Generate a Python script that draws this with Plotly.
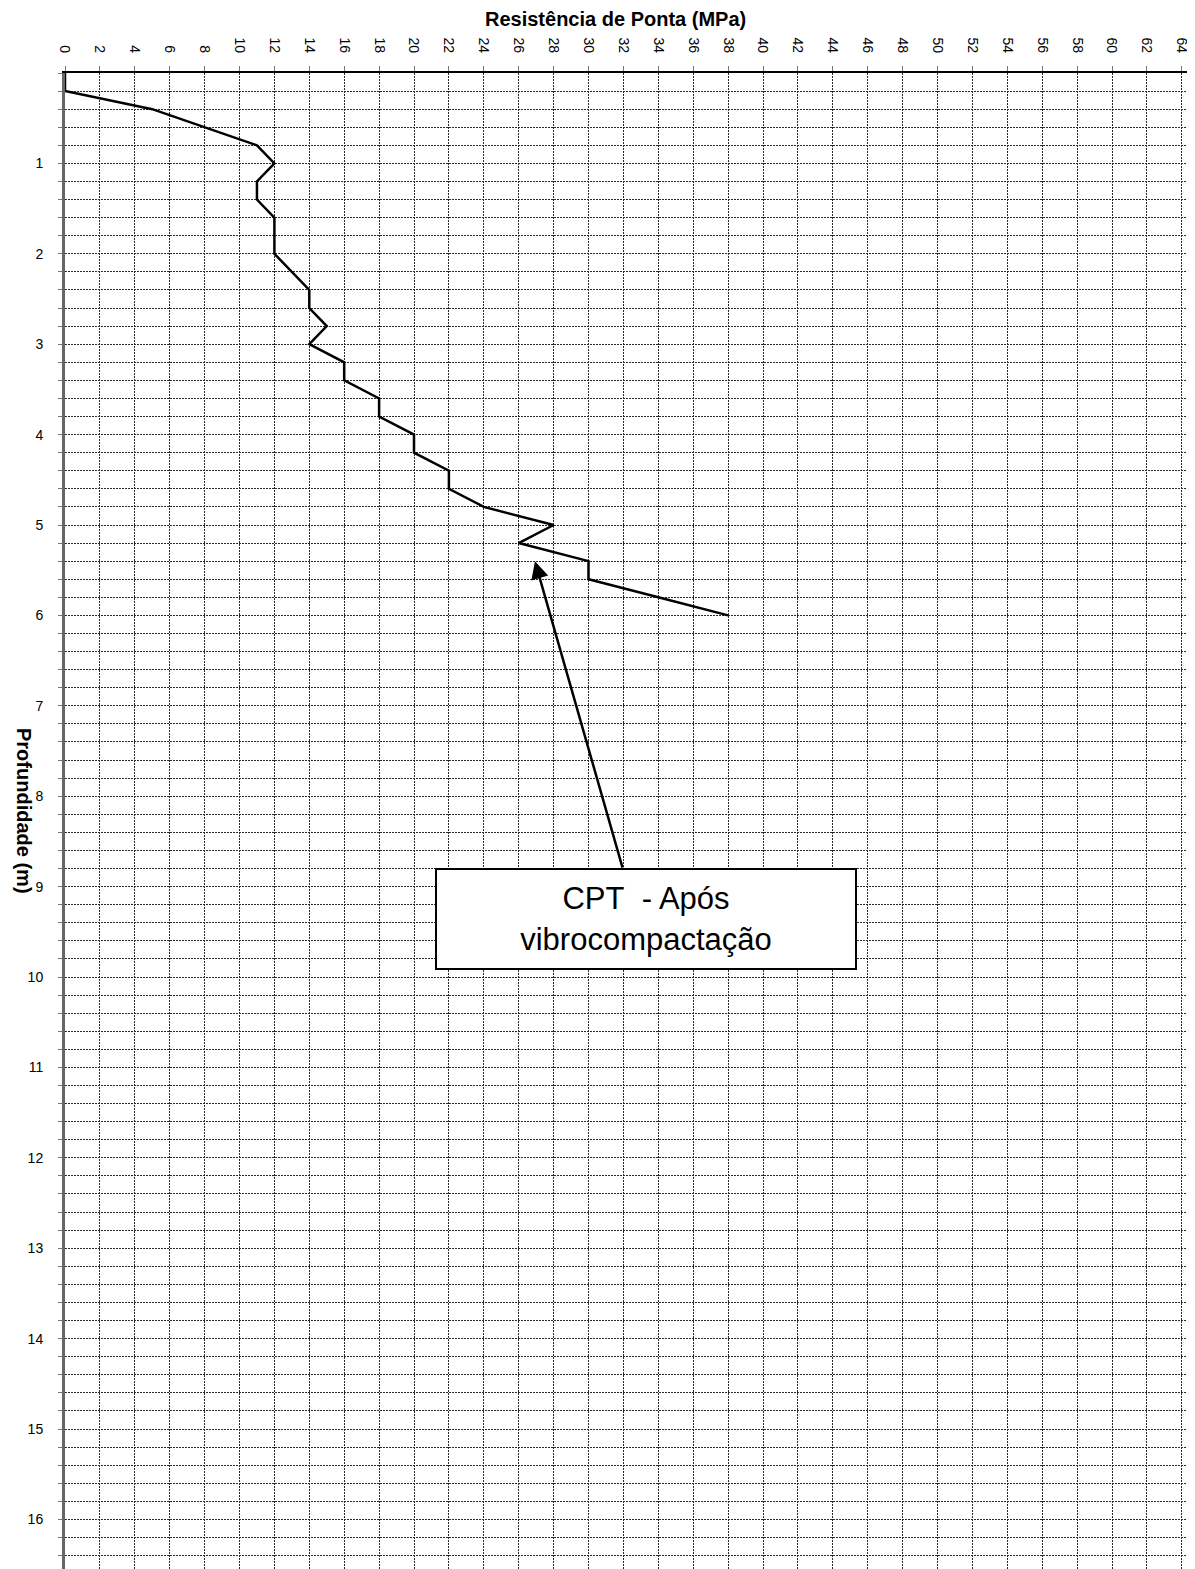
import plotly.graph_objects as go

# --- data ---
depth_m = [0, 0.2, 0.4, 0.6, 0.8, 1.0, 1.2, 1.4, 1.6, 1.8, 2.0, 2.2, 2.4, 2.6, 2.8, 3.0,
           3.2, 3.4, 3.6, 3.8, 4.0, 4.2, 4.4, 4.6, 4.8, 5.0, 5.2, 5.4, 5.6, 5.8, 6.0]
qc_mpa = [0, 0, 5, 8, 11, 12, 11, 11, 12, 12, 12, 13, 14, 14, 15, 14,
          16, 16, 18, 18, 20, 20, 22, 22, 24, 28, 26, 30, 30, 34, 38]

depth_tick_vals = list(range(1, 17))
depth_tick_text = [str(v) for v in depth_tick_vals]

x_title = "Resistência de Ponta (MPa)"
y_title = "Profundidade (m)"
label_text = "CPT\u00a0 - Após<br>vibrocompactação"

FONT = "Liberation Sans, Arial, sans-serif"
PAGE_OFF = 8              # default body margin of the html page
W, H = 1195 - PAGE_OFF, 1569 - PAGE_OFF
L, T = 65 - PAGE_OFF, 73 - PAGE_OFF
px_per_x = 17.45
px_per_y = 90.4
x_max = (W - L) / px_per_x
y_max = (H - T) / px_per_y

fig = go.Figure()
fig.add_trace(go.Scatter(x=qc_mpa, y=depth_m, mode="lines",
                         line=dict(color="black", width=2.5), showlegend=False,
                         hoverinfo="skip"))

grid = dict(gridcolor="#2a2a2a", gridwidth=1, griddash="2px,1px")

fig.update_layout(
    width=W, height=H,
    margin=dict(l=L, t=T, r=0, b=0),
    paper_bgcolor="white", plot_bgcolor="white",
    font=dict(family=FONT, color="black"),
    xaxis=dict(side="top", range=[0, x_max], dtick=2, tick0=0,
               tickangle=90, tickfont=dict(size=14, family=FONT),
               ticks="outside", ticklen=5, tickcolor="#777",
               ticklabelstandoff=8,
               showline=True, linecolor="black", linewidth=2,
               showgrid=True, zeroline=False, **grid),
    yaxis=dict(range=[y_max, 0], tickmode="array",
               tickvals=depth_tick_vals, ticktext=depth_tick_text,
               tickfont=dict(size=14, family=FONT),
               ticks="outside", ticklen=4, tickcolor="#777",
               ticklabelstandoff=12,
               showline=True, linecolor="#666", linewidth=3,
               showgrid=True, zeroline=False, **grid,
               minor=dict(dtick=0.2, tick0=0, showgrid=True, ticks="outside",
                          ticklen=4, tickcolor="#777", **grid)),
)

# axis titles
fig.add_annotation(text=f"<b>{x_title}</b>", xref="paper", yref="paper",
                   x=(615 - 65) / (W - L), y=1, yshift=73 - 19, showarrow=False,
                   font=dict(size=20, family=FONT, color="black"),
                   xanchor="center", yanchor="middle")
fig.add_annotation(text=f"<b>{y_title}</b>", xref="paper", yref="paper",
                   x=0, xshift=24 - 65, y=1 - (811 - 73) / (H - T), showarrow=False,
                   textangle=90,
                   font=dict(size=20, family=FONT, color="black"),
                   xanchor="center", yanchor="middle")

# arrow
fig.add_annotation(x=26.93, y=5.40, xref="x", yref="y", text="",
                   showarrow=True, ax=88, ay=308, axref="pixel", ayref="pixel",
                   arrowhead=2, arrowsize=1.4, arrowwidth=2.5, arrowcolor="black")
# label box
fig.add_annotation(x=33.3, y=9.36, xref="x", yref="y", text=label_text,
                   showarrow=False, font=dict(size=31, family=FONT, color="black"),
                   bgcolor="white", bordercolor="black", borderwidth=2,
                   borderpad=2, width=414, height=94, align="center")

fig.write_html("out.html")
